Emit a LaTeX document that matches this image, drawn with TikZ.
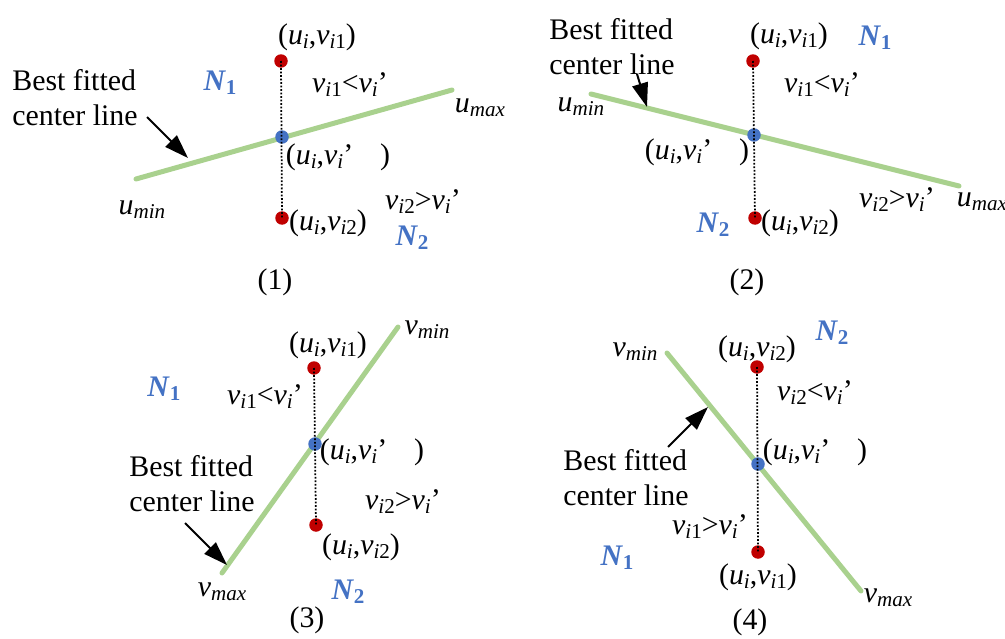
\documentclass[tikz,border=0pt]{standalone}
\usepackage{fontspec}
\setmainfont{Liberation Serif}
\usetikzlibrary{arrows.meta}
\definecolor{linegreen}{RGB}{169,209,142}
\definecolor{dotred}{RGB}{192,0,0}
\definecolor{dotblue}{RGB}{68,114,196}
\newcommand{\low}[1]{\raisebox{-0.3ex}{\fontsize{12}{12}\selectfont #1}}
\newcommand{\ptlabel}[1]{(\textit{u}\low{\textit{i}},\textit{v}\low{\textit{i}#1})}
\newcommand{\ptmid}{(\textit{u}\low{\textit{i}},\textit{v}\low{\textit{i}}’\hspace{0.9em})}
\newcommand{\cmp}[2]{\textit{v}\low{\textit{i}#1}#2\textit{v}\low{\textit{i}}’}
\newcommand{\bnd}[2]{\textit{#1}\low{\textit{#2}}}
\newcommand{\reg}[1]{\textcolor{dotblue}{\textbf{\textit{N}\low{#1}}}}
\begin{document}
\begin{tikzpicture}[x=0.02cm,y=-0.02cm,
  every node/.style={font=\fontsize{17}{20}\selectfont,inner sep=0pt},
  fitline/.style={linegreen,line width=0.1cm,line cap=round},
  dotline/.style={densely dotted,line width=1pt},
  reddot/.style={circle,fill=dotred,minimum size=0.27cm},
  bluedot/.style={circle,fill=dotblue,minimum size=0.27cm},
  pointer/.style={-{Triangle[length=0.48cm,width=0.32cm]},line width=0.04cm},
  caption/.style={align=left}]
\useasboundingbox (0,0) rectangle (1005,639);
% (1)
\draw[fitline] (136,179) coordinate (s1) -- (452,90) coordinate (e1);
\node[reddot] (a1) at (281,61) {};
\node[bluedot] (c1) at (282,137) {};
\node[reddot] (b1) at (282,218) {};
\draw[dotline] (a1.center) -- (b1.center);
\node[caption] (t1) at (75,98) {Best fitted\\center line};
\coordinate (q1) at (147,117);
\coordinate (h1) at (188,158);
\draw[pointer] (q1) -- (h1);
\node at (317,37) {\ptlabel{1}};
\node at (220,83) {\reg{1}};
\node at (350,85) {\cmp{1}{<}};
\node at (480,108) {\bnd{u}{max}};
\node at (338,157) {\ptmid};
\node at (142,210) {\bnd{u}{min}};
\node at (423,202) {\cmp{2}{>}};
\node at (328,223) {\ptlabel{2}};
\node at (412,238) {\reg{2}};
\node at (275,282) {(1)};
% (2)
\draw[fitline] (591,94) coordinate (s2) -- (959,186) coordinate (e2);
\node[reddot] (a2) at (753,61) {};
\node[bluedot] (c2) at (754,135) {};
\node[reddot] (b2) at (755,218) {};
\draw[dotline] (a2.center) -- (b2.center);
\node[caption] (t2) at (612,47) {Best fitted\\center line};
\coordinate (q2) at (637,74);
\coordinate (h2) at (647,107);
\draw[pointer] (q2) -- (h2);
\node at (789,36) {\ptlabel{1}};
\node at (875,38) {\reg{1}};
\node at (822,85) {\cmp{1}{<}};
\node at (581,107) {\bnd{u}{min}};
\node at (697,152) {\ptmid};
\node at (897,200) {\cmp{2}{>}};
\node at (982,202) {\bnd{u}{max}};
\node at (713,225) {\reg{2}};
\node at (800,223) {\ptlabel{2}};
\node at (747,282) {(2)};
% (3)
\draw[fitline] (222,573) coordinate (s3) -- (398,327) coordinate (e3);
\node[reddot] (a3) at (314,368) {};
\node[bluedot] (c3) at (315,444) {};
\node[reddot] (b3) at (316,525) {};
\draw[dotline] (a3.center) -- (b3.center);
\node[caption] (t3) at (192,484) {Best fitted\\center line};
\coordinate (q3) at (185,523);
\coordinate (h3) at (227,565);
\draw[pointer] (q3) -- (h3);
\node at (427,330) {\bnd{v}{min}};
\node at (328,345) {\ptlabel{1}};
\node at (164,389) {\reg{1}};
\node at (265,397) {\cmp{1}{<}};
\node at (372,452) {\ptmid};
\node at (403,502) {\cmp{2}{>}};
\node at (361,547) {\ptlabel{2}};
\node at (222,592) {\bnd{v}{max}};
\node at (348,592) {\reg{2}};
\node at (307,620) {(3)};
% (4)
\draw[fitline] (667,353) coordinate (s4) -- (861,591) coordinate (e4);
\node[reddot] (a4) at (757,367) {};
\node[bluedot] (c4) at (758,464) {};
\node[reddot] (b4) at (758,552) {};
\draw[dotline] (a4.center) -- (b4.center);
\node[caption] (t4) at (626,478) {Best fitted\\center line};
\coordinate (q4) at (668,447);
\coordinate (h4) at (708,407);
\draw[pointer] (q4) -- (h4);
\node at (635,352) {\bnd{v}{min}};
\node at (757,349) {\ptlabel{2}};
\node at (832,333) {\reg{2}};
\node at (815,393) {\cmp{2}{<}};
\node at (815,452) {\ptmid};
\node at (710,527) {\cmp{1}{>}};
\node at (617,558) {\reg{1}};
\node at (758,577) {\ptlabel{1}};
\node at (888,598) {\bnd{v}{max}};
\node at (750,622) {(4)};
\end{tikzpicture}
\end{document}
